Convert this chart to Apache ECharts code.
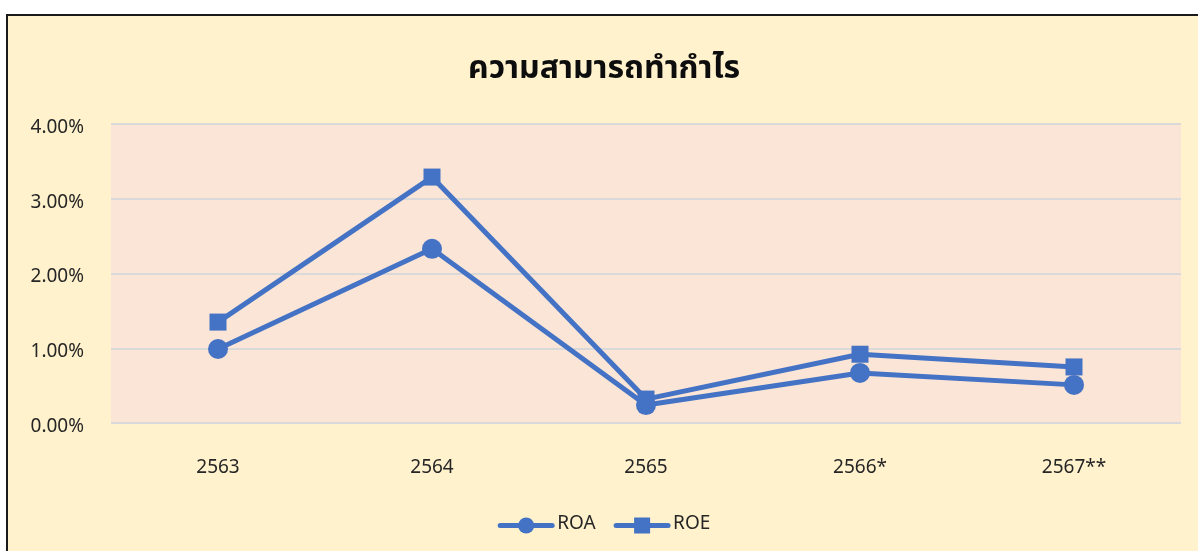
<!DOCTYPE html>
<html>
<head>
<meta charset="utf-8">
<script src="https://cdn.jsdelivr.net/npm/echarts@6/dist/echarts.min.js"></script>
<style>
  html, body { margin: 0; padding: 0; background: #ffffff; width: 1198px; height: 551px; overflow: hidden; }
  #chart { position: absolute; left: 6px; top: 14px; width: 1192px; height: 537px;
           border-left: 2px solid #1a1a1a; border-top: 2px solid #1a1a1a; background: #FFF2CC; }
</style>
</head>
<body>
<div id="chart"></div>
<script>
const title = 'ความสามารถทำกำไร';
const categories = ['2563', '2564', '2565', '2566*', '2567**'];
const roa = [0.99, 2.33, 0.24, 0.67, 0.51];
const roe = [1.35, 3.29, 0.32, 0.92, 0.75];
const yTicks = [0, 1, 2, 3, 4];

const font = '"Noto Sans Thai", "Noto Sans", "Open Sans", sans-serif';
const chart = echarts.init(document.getElementById('chart'), null, { renderer: 'canvas' });
const lineColor = '#4472C4';
chart.setOption({
  backgroundColor: '#FFF2CC',
  animation: false,
  textStyle: { fontFamily: font },
  title: {
    text: title, left: 'center', top: 35,
    textStyle: { fontFamily: font, fontSize: 32, fontWeight: 'bold', color: '#0d0d0d' }
  },
  grid: {
    left: 103, top: 108, width: 1070, height: 299,
    show: true, backgroundColor: '#FBE5D6', borderWidth: 0
  },
  legend: {
    bottom: 13, left: 'center', itemWidth: 52, itemHeight: 20, itemGap: 18,
    textStyle: { fontFamily: font, fontSize: 19, color: '#262626' },
    lineStyle: { width: 5, cap: 'round' },
    data: ['ROA', 'ROE']
  },
  xAxis: {
    type: 'category', data: categories, boundaryGap: true,
    axisLine: { show: false }, axisTick: { show: false },
    axisLabel: { fontFamily: font, fontSize: 19, color: '#262626', margin: 37 }
  },
  yAxis: {
    type: 'value', min: yTicks[0], max: yTicks[yTicks.length - 1], interval: 1,
    axisLine: { show: false }, axisTick: { show: false },
    splitLine: { lineStyle: { color: '#D9D9D9', width: 2 } },
    axisLabel: { fontFamily: font, fontSize: 19, color: '#262626', margin: 27,
      verticalAlign: 'top', lineHeight: 10,
      formatter: v => v.toFixed(2) + '%' }
  },
  series: [
    { name: 'ROA', type: 'line', data: roa, symbol: 'circle', symbolSize: 20,
      lineStyle: { color: lineColor, width: 5 }, itemStyle: { color: lineColor } },
    { name: 'ROE', type: 'line', data: roe, symbol: 'rect', symbolSize: 17,
      lineStyle: { color: lineColor, width: 5 }, itemStyle: { color: lineColor } }
  ]
});
</script>
</body>
</html>
